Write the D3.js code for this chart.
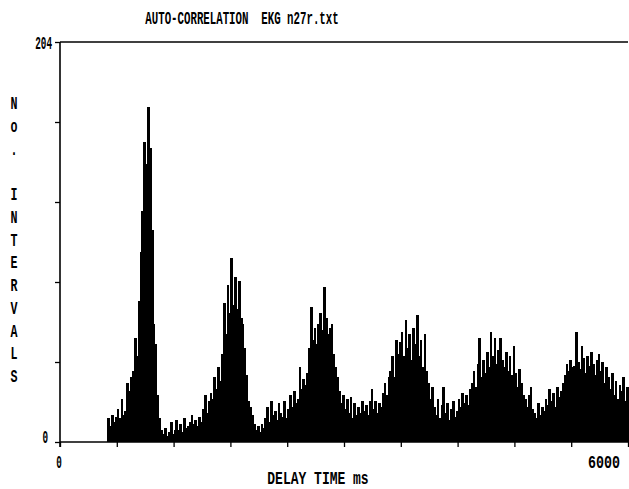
<!DOCTYPE html>
<html>
<head>
<meta charset="utf-8">
<script src="https://cdn.jsdelivr.net/npm/d3@7"></script>
<style>
  html, body { margin: 0; padding: 0; background: #fff; }
  svg { display: block; }
  text { font-family: "Liberation Mono", "DejaVu Sans Mono", monospace; fill: #000; white-space: pre; }
</style>
</head>
<body>
<svg id="chart" width="629" height="489"></svg>
<script>
// ---- data ----
const title = "AUTO-CORRELATION  EKG n27r.txt";
const xLabel = "DELAY TIME ms";
const yLabelLetters = ["N", "o", ".", "", "I", "N", "T", "E", "R", "V", "A", "L", "S"];
const xDomain = [0, 6000];
const yDomain = [0, 204];
const xTickLabels = ["0", "6000"];
const yTickLabels = ["0", "204"];
const binWidthMs = 20;
// counts per 20 ms delay bin, 0 .. 6000 ms
const counts = [
  0,0,0,0,0,0,0,0,0,0, 0,0,0,0,0,0,0,0,0,0, 0,0,0,0,0,
  12,8,14,10,
  13,17,12,22,14,16,
  30,26,33,
  36,53,44,
  72,97,
  118,153,
  142,171,150,
  108,60,50,24,
  12,6,4,7,3,5,10,4,6,
  11,6,9,5,12,7,8,10,14,9,11,8,13,10,
  17,24,15,21,25,
  22,33,27,38,31,
  45,71,55,80,66,
  94,70,
  84,68,82,
  63,60,
  48,
  34,
  21,18,
  14,9,
  6,8,5,9,7,
  12,18,10,21,14,16,11,20,15,13,21,12,17,
  24,18,26,20,22,
  38,27,32,29,35,
  48,69,52,58,50,
  60,66,57,79,
  63,55,58,60,
  45,38,33,
  26,20,24,17,22,
  15,23,12,20,14,
  18,15,21,16,19,14,21,
  27,17,21,15,20,18,
  25,30,24,33,
  36,44,33,52,
  45,51,56,44,62,
  48,55,42,58,50,65,
  44,52,38,55,36,
  30,22,28,
  18,14,22,12,19,28,15,20,11,17,21,13,16,
  22,18,25,20,24,19,27,
  30,36,28,40,53,33,
  42,35,46,38,56,
  44,53,40,47,53,
  42,38,46,36,44,34,49,
  35,28,37,30,24,
  22,18,24,28,17,
  15,12,20,14,18,16,
  22,19,27,21,25,18,28,23,26,30,
  34,40,36,42,38,39,56,
  41,37,49,43,35,44,39,46,
  40,34,42,45,36,41,30,38,
  33,27,35,24,31,22,29,
  26,33,21,28
];

// ---- layout ----
const svg = d3.select("#chart");
const plotLeft = 60, plotRight = 628, plotTop = 42, plotBottom = 442;

const x = d3.scaleLinear().domain(xDomain).range([plotLeft, plotRight]);
const y = d3.scaleLinear().domain(yDomain).range([plotBottom, plotTop]);

// condensed text helper: monospace glyph advance is 0.6em, squeeze horizontally
function label(txt, px, py, anchor, charW, size) {
  const fs = size || 19;
  const sx = charW / (0.6 * fs);
  return svg.append("text")
    .attr("transform", `translate(${px},${py}) scale(${sx},1)`)
    .attr("text-anchor", anchor)
    .attr("font-size", fs)
    .attr("font-weight", "bold")
    .attr("xml:space", "preserve")
    .text(txt);
}

// bars
const data = counts.map((c, i) => ({ t: i * binWidthMs, c }));
const bw = x(binWidthMs) - x(0);
svg.append("g").attr("shape-rendering", "crispEdges").selectAll("rect")
  .data(data.filter(d => d.c > 0))
  .join("rect")
  .attr("x", d => x(d.t))
  .attr("width", bw + 0.8)
  .attr("y", d => y(d.c))
  .attr("height", d => y(0) - y(d.c))
  .attr("fill", "#000");

// y axis (left) with ticks
const yTicks = d3.range(0, 6).map(i => i * yDomain[1] / 5);
const yAxis = d3.axisLeft(y).tickValues(yTicks).tickSize(5).tickFormat("");
svg.append("g").attr("transform", `translate(${plotLeft},0)`).call(yAxis)
  .call(g => g.select(".domain").remove())
  .call(g => g.selectAll("line").attr("stroke", "#000").attr("stroke-width", 1.3));
svg.append("line").attr("x1", plotLeft).attr("x2", plotLeft).attr("y1", plotTop).attr("y2", plotBottom + 5)
  .attr("stroke", "#000").attr("stroke-width", 1.6);

// top border
svg.append("line").attr("x1", plotLeft).attr("x2", plotRight).attr("y1", plotTop).attr("y2", plotTop)
  .attr("stroke", "#000").attr("stroke-width", 1.6);

// x axis (bottom)
const xTicks = d3.range(0, 11).map(i => i * xDomain[1] / 10);
const xAxis = d3.axisBottom(x).tickValues(xTicks).tickSize(5).tickFormat("");
svg.append("g").attr("transform", `translate(0,${plotBottom})`).call(xAxis)
  .call(g => g.select(".domain").remove())
  .call(g => g.selectAll("line").attr("stroke", "#000").attr("stroke-width", 1.3));
svg.append("line").attr("x1", plotLeft).attr("x2", plotRight).attr("y1", plotBottom).attr("y2", plotBottom)
  .attr("stroke", "#000").attr("stroke-width", 1.6);

// tick labels
label(yTickLabels[1], 52, y(yDomain[1]) + 7, "end", 5.6);
label(yTickLabels[0], 48, y(0) + 1, "end", 5.6);
label(xTickLabels[0], x(xDomain[0]) - 1, 468, "middle", 5.6);
label(xTickLabels[1], 620, 468, "end", 8);

// title
label(title, 242, 24, "middle", 6.45);

// x label
label(xLabel, 318, 484, "middle", 7.8);

// y label, stacked letters
yLabelLetters.forEach((ch, i) => {
  if (ch) label(ch, 14, 109 + i * 22.75, "middle", 7);
});
</script>
</body>
</html>
